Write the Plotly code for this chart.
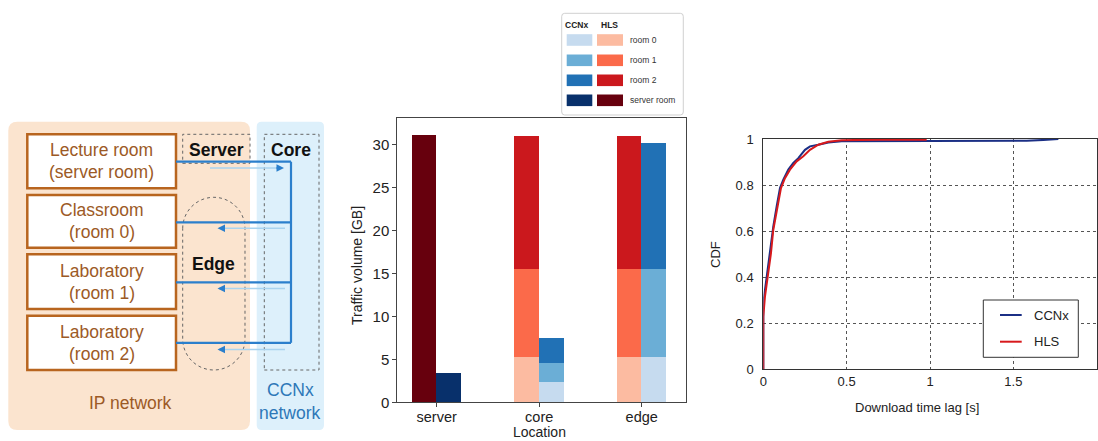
import plotly.graph_objects as go

W, H = 1098, 441

# ---------------- data ----------------
locations = ["server", "core", "edge"]
rooms = ["room 0", "room 1", "room 2", "server room"]
hls_room0 = [0.0, 5.2, 5.2]
hls_room1 = [0.0, 10.3, 10.3]
hls_room2 = [0.0, 15.4, 15.4]
hls_server = [31.0, 0.0, 0.0]
ccnx_room0 = [0.0, 2.3, 5.2]
ccnx_room1 = [0.0, 2.25, 10.3]
ccnx_room2 = [0.0, 2.85, 14.65]
ccnx_server = [3.4, 0.0, 0.0]

ccnx_lag = [0, 0, 0.01, 0.026, 0.04, 0.06, 0.08, 0.10, 0.12, 0.15, 0.18, 0.21, 0.25, 0.28,
            0.33, 0.39, 0.47, 0.8, 1.2, 1.58, 1.68, 1.77]
ccnx_cdf = [0, 0.287, 0.345, 0.43, 0.52, 0.62, 0.707, 0.787, 0.823, 0.867, 0.896, 0.917, 0.953,
            0.968, 0.975, 0.985, 0.99, 0.991, 0.991, 0.992, 0.996, 1.0]
hls_lag = [0, 0, 0.01, 0.026, 0.046, 0.06, 0.08, 0.106, 0.13, 0.16, 0.20, 0.24, 0.28, 0.33,
           0.39, 0.47, 0.7, 0.98]
hls_cdf = [0, 0.229, 0.316, 0.40, 0.504, 0.606, 0.693, 0.787, 0.83, 0.867, 0.903, 0.925, 0.953,
           0.975, 0.988, 0.995, 0.997, 0.997]

cdf_xticks = [0, 0.5, 1, 1.5, 2]
cdf_yticks = [0, 0.2, 0.4, 0.6, 0.8, 1]

# ---------------- styles ----------------
blues = ["#c6dbef", "#6baed6", "#2171b5", "#08306b"]
reds = ["#fcbba1", "#fb6a4a", "#cb181d", "#67000d"]
FONT = "Liberation Sans, Arial, sans-serif"
BAR_W = 0.24


def X(x):
    return x / W


def Y(y):
    return 1 - y / H


fig = go.Figure()

hls_series = [hls_room0, hls_room1, hls_room2, hls_server]
ccnx_series = [ccnx_room0, ccnx_room1, ccnx_room2, ccnx_server]
pos = list(range(len(locations)))
for i, name in enumerate(rooms):
    fig.add_trace(go.Bar(x=[p - BAR_W / 2 for p in pos], y=hls_series[i], width=BAR_W,
                         marker=dict(color=reds[i], line=dict(width=0)), name="HLS " + name,
                         showlegend=False, xaxis="x", yaxis="y"))
    fig.add_trace(go.Bar(x=[p + BAR_W / 2 for p in pos], y=ccnx_series[i], width=BAR_W,
                         marker=dict(color=blues[i], line=dict(width=0)), name="CCNx " + name,
                         showlegend=False, xaxis="x", yaxis="y"))

fig.add_trace(go.Scatter(x=ccnx_lag, y=ccnx_cdf, mode="lines", name="CCNx",
                         line=dict(color="#1b2f85", width=2), showlegend=False,
                         xaxis="x2", yaxis="y2"))
fig.add_trace(go.Scatter(x=hls_lag, y=hls_cdf, mode="lines", name="HLS",
                         line=dict(color="#d7191c", width=2), showlegend=False,
                         xaxis="x2", yaxis="y2"))

shapes = []
annos = []


def path(cmds):
    s = ""
    for c in cmds:
        if c[0] == "Z":
            s += "Z"
            continue
        s += c[0] + " " + " ".join(
            f"{X(c[k]):.5f},{Y(c[k + 1]):.5f}" for k in range(1, len(c), 2)) + " "
    return s


def rrect(x0, y0, x1, y1, r, fill, line=None, lw=0, dash=None):
    cmds = [("M", x0 + r, y0), ("L", x1 - r, y0), ("Q", x1, y0, x1, y0 + r),
            ("L", x1, y1 - r), ("Q", x1, y1, x1 - r, y1), ("L", x0 + r, y1),
            ("Q", x0, y1, x0, y1 - r), ("L", x0, y0 + r), ("Q", x0, y0, x0 + r, y0), ("Z",)]
    shapes.append(dict(type="path", xref="paper", yref="paper", path=path(cmds),
                       fillcolor=fill, line=dict(color=line or fill, width=lw, dash=dash),
                       layer="above"))


def rect(x0, y0, x1, y1, fill="rgba(0,0,0,0)", line="#000", lw=1, dash=None):
    shapes.append(dict(type="rect", xref="paper", yref="paper", x0=X(x0), x1=X(x1),
                       y0=Y(y1), y1=Y(y0), fillcolor=fill,
                       line=dict(color=line, width=lw, dash=dash), layer="above"))


def seg(x0, y0, x1, y1, color, lw):
    shapes.append(dict(type="line", xref="paper", yref="paper", x0=X(x0), x1=X(x1),
                       y0=Y(y0), y1=Y(y1), line=dict(color=color, width=lw), layer="above"))


def text(x, y, t, size, color="#222", bold=False, angle=0, xanchor="center", pad=1):
    annos.append(dict(xref="paper", yref="paper", x=X(x), y=Y(y), text=("<b>%s</b>" % t) if bold else t,
                      showarrow=False, font=dict(family=FONT, size=size, color=color),
                      xanchor=xanchor, yanchor="middle", textangle=angle, borderpad=pad))


# ---------------- diagram ----------------
BROWN = "#b8651f"
BROWN_T = "#9c5a26"
LBLUE = "#2b7fcc"
rrect(8.3, 121.7, 250, 430, 9, "#fbe4cf")
rrect(256.7, 121.7, 324, 430, 5, "#ddf0fb")
boxes = [(134.3, 188.3), (195, 247.7), (254.3, 309), (315.7, 370)]
labels = [("Lecture room", "(server room)"), ("Classroom", "(room 0)"),
          ("Laboratory", "(room 1)"), ("Laboratory", "(room 2)")]
for (t0, t1), (l1, l2) in zip(boxes, labels):
    rect(27.3, t0, 176, t1, fill="white", line=BROWN, lw=2.5)
    mid = (t0 + t1) / 2
    text(101.7, mid - 11, l1, 17.5, BROWN_T)
    text(101.7, mid + 11, l2, 17.5, BROWN_T)

rect(182.7, 134.3, 250, 163.3, line="#666", lw=1, dash="dot")
rect(264.3, 134.3, 319, 370, line="#666", lw=1, dash="dot")
# stadium shape for Edge
l, r_, t, b = 182.7, 245, 197.3, 370
rad = (r_ - l) / 2
cx = (l + r_) / 2
k = 0.5523 * rad
st = [("M", l, t + rad), ("C", l, t + rad - k, cx - k, t, cx, t),
      ("C", cx + k, t, r_, t + rad - k, r_, t + rad), ("L", r_, b - rad),
      ("C", r_, b - rad + k, cx + k, b, cx, b), ("C", cx - k, b, l, b - rad + k, l, b - rad), ("Z",)]
shapes.append(dict(type="path", xref="paper", yref="paper", path=path(st),
                   line=dict(color="#666", width=1, dash="dot"), layer="above"))

# network links
for yy in [161.7, 222.3, 282.3, 342.8]:
    seg(176, yy, 291, yy, LBLUE, 2.2)
seg(291, 161.7, 291, 342.8, LBLUE, 2.2)
# thin flow arrows
seg(210, 168, 280, 168, "#a9d3ef", 1.5)
annos.append(dict(xref="paper", yref="paper", x=X(284), y=Y(168), ax=-9, ay=0, text="",
                  showarrow=True, arrowhead=2, arrowsize=1, arrowwidth=1.5, arrowcolor=LBLUE,
                  standoff=0))
for yy in [228.3, 288.6, 349.5]:
    seg(222, yy, 285, yy, "#a9d3ef", 1.5)
    annos.append(dict(xref="paper", yref="paper", x=X(217.5), y=Y(yy), ax=9, ay=0, text="",
                      showarrow=True, arrowhead=2, arrowsize=1, arrowwidth=1.5,
                      arrowcolor=LBLUE, standoff=0))

text(216.7, 150, "Server", 17.5, "#111", bold=True)
text(291, 150, "Core", 17.5, "#111", bold=True)
text(213.5, 264, "Edge", 17.5, "#111", bold=True)
text(130, 403, "IP network", 17.5, BROWN_T)
text(290, 390, "CCNx", 17.5, "#2e78b8")
text(290, 413, "network", 17.5, "#2e78b8")

# ---------------- bar legend ----------------
rrect(561.7, 13.3, 683.3, 115, 3, "white", line="#d0d0d0", lw=1)
text(576, 24.5, "CCNx", 8.5, "#222", bold=True)
text(609.5, 24.5, "HLS", 8.5, "#222", bold=True)
for i, (yc, name) in enumerate(zip([40, 60.3, 80.3, 100.3], rooms)):
    rect(566.7, yc - 5.8, 592.3, yc + 5.8, fill=blues[i], line=blues[i], lw=0)
    rect(597, yc - 5.8, 623, yc + 5.8, fill=reds[i], line=reds[i], lw=0)
    text(627.7, yc, name, 8.5, "#333", xanchor="left")

text(357, 265, "Traffic volume [GB]", 14, "#222", angle=-90)
text(539, 431.5, "Location", 14, "#222", pad=0)

# ---------------- CDF legend ----------------
rect(983.3, 300, 1078.3, 357.3, fill="white", line="#333", lw=1)
seg(1000, 315, 1021.7, 315, "#1b2f85", 2)
seg(1000, 341.7, 1021.7, 341.7, "#d7191c", 2)
text(1031.5, 315, "CCNx", 13, "#222", xanchor="left")
text(1031.5, 341.7, "HLS", 13, "#222", xanchor="left")
text(715, 255, "CDF", 13, "#222", angle=-90)
text(917, 407, "Download time lag [s]", 13, "#222")

fig.update_layout(
    width=W, height=H, autosize=False,
    margin=dict(l=0, r=0, t=0, b=0, pad=0, autoexpand=False),
    paper_bgcolor="white", plot_bgcolor="white",
    barmode="stack", bargap=0,
    showlegend=False,
    font=dict(family=FONT, color="#222"),
    xaxis=dict(domain=[X(397.3), X(685.7)], range=[-0.384, 2.429], tickvals=pos,
               ticktext=locations, showline=True, mirror=True, linecolor="#444", linewidth=1,
               ticks="outside", ticklen=4, tickcolor="#444", showgrid=False, zeroline=False,
               ticklabelstandoff=-3,
               tickfont=dict(size=14.5, color="#222"), anchor="y", automargin=False),
    yaxis=dict(domain=[Y(402.3), Y(118.3)], range=[0, 33.02], tickvals=[0, 5, 10, 15, 20, 25, 30],
               showline=True, mirror=True, linecolor="#444", linewidth=1, ticks="outside",
               ticklen=4, tickcolor="#444", showgrid=False, zeroline=False,
               tickfont=dict(size=15, color="#222"), anchor="x", automargin=False),
    xaxis2=dict(domain=[X(763.3), X(1096.7)], range=[0, 2], tickvals=cdf_xticks,
                ticktext=["0", "0.5", "1", "1.5", "2"], showline=True, mirror=True,
                linecolor="#333", linewidth=1, ticks="", showgrid=True, gridcolor="#555",
                griddash="3px,3px", gridwidth=1, zeroline=False, automargin=False,
                tickfont=dict(size=13, color="#222"), anchor="y2"),
    yaxis2=dict(domain=[Y(369.3), Y(139)], range=[0, 1], tickvals=cdf_yticks,
                ticktext=["0", "0.2", "0.4", "0.6", "0.8", "1"], showline=True, mirror=True,
                linecolor="#333", linewidth=1, ticks="", showgrid=True, gridcolor="#555",
                griddash="3px,3px", gridwidth=1, zeroline=False, ticklabelstandoff=6,
                automargin=False, tickfont=dict(size=13, color="#222"), anchor="x2"),
    shapes=shapes,
    annotations=annos,
)

fig.write_html(
    "out.html",
    config={"displayModeBar": False},
    post_script=(
        "document.documentElement.style.overflow='hidden';"
        "document.body.style.margin='0';document.body.style.overflow='hidden';"
        "var gd=document.querySelector('.plotly-graph-div');"
        "gd.style.position='fixed';gd.style.left='0px';gd.style.top='0px';"
    ),
)
